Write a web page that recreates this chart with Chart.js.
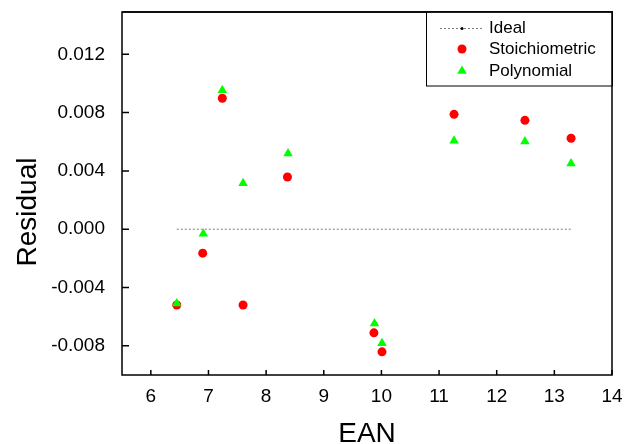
<!DOCTYPE html>
<html>
<head>
<meta charset="utf-8">
<script src="https://cdn.jsdelivr.net/npm/chart.js@4.4.0/dist/chart.umd.min.js"></script>
<style>
  html, body { margin: 0; padding: 0; background: #ffffff; }
  #wrap { width: 636px; height: 444px; }
</style>
</head>
<body>
<div id="wrap"><canvas id="residualChart"></canvas></div>
<script>
// data
const stoichEan = [6.45, 6.90, 7.24, 7.60, 8.37, 9.87, 10.01, 11.26, 12.49, 13.29];
const stoichResidual = [-0.0052, -0.00164, 0.00898, -0.0052, 0.00358, -0.00711, -0.00841, 0.00788, 0.00747, 0.00624];
const polyEan = [6.45, 6.91, 7.24, 7.60, 8.38, 9.88, 10.01, 11.26, 12.49, 13.29];
const polyResidual = [-0.0051, -0.00031, 0.00953, 0.00315, 0.0052, -0.00647, -0.00782, 0.00606, 0.00602, 0.00451];
const idealEan = [6.45, 13.32];
const idealResidual = [0, 0];

const xTicks = [6, 7, 8, 9, 10, 11, 12, 13, 14];
const yTicks = [-0.008, -0.004, 0, 0.004, 0.008, 0.012];

const FONT = "'Liberation Sans', Arial, sans-serif";

function toPoints(xs, ys) {
  return xs.map((x, i) => ({ x: x, y: ys[i] }));
}

// frame, inward tick marks, y title and the boxed legend
const framePlugin = {
  id: 'frame',
  afterDraw(chart) {
    const ctx = chart.ctx;
    const a = chart.chartArea;
    const xs = chart.scales.x;
    const ys = chart.scales.y;
    ctx.save();
    ctx.strokeStyle = '#000000';
    ctx.lineWidth = 1.5;
    ctx.strokeRect(a.left, a.top, a.right - a.left, a.bottom - a.top);
    ctx.beginPath();
    xTicks.forEach(v => {
      const px = xs.getPixelForValue(v);
      ctx.moveTo(px, a.bottom);
      ctx.lineTo(px, a.bottom - 5);
    });
    yTicks.forEach(v => {
      const py = ys.getPixelForValue(v);
      ctx.moveTo(a.left, py);
      ctx.lineTo(a.left + 7, py);
    });
    ctx.stroke();

    // y axis title
    ctx.fillStyle = '#000000';
    ctx.font = '28px ' + FONT;
    ctx.textAlign = 'center';
    ctx.textBaseline = 'middle';
    ctx.translate(28, 212);
    ctx.rotate(-Math.PI / 2);
    ctx.fillText('Residual', 0, 0);
    ctx.restore();

    // legend box in the top right corner
    ctx.save();
    const bx = 426, by = a.top, bw = a.right - 426, bh = 74;
    ctx.fillStyle = '#ffffff';
    ctx.fillRect(bx, by, bw, bh);
    ctx.strokeStyle = '#000000';
    ctx.lineWidth = 1;
    ctx.strokeRect(bx + 0.5, by, bw, bh);
    ctx.lineWidth = 1.5;
    ctx.beginPath();
    ctx.moveTo(a.left, a.top);
    ctx.lineTo(a.right, a.top);
    ctx.lineTo(a.right, by + bh);
    ctx.stroke();

    const mx = 462;
    const rows = [by + 16, by + 37, by + 59];
    chart.data.datasets.forEach((ds, i) => {
      const ry = rows[i];
      if (ds.showLine) {
        ctx.strokeStyle = ds.borderColor;
        ctx.lineWidth = 1;
        ctx.setLineDash([2, 2]);
        ctx.beginPath();
        ctx.moveTo(440, ry + 0.5);
        ctx.lineTo(482, ry + 0.5);
        ctx.stroke();
        ctx.setLineDash([]);
        ctx.fillStyle = '#000000';
        ctx.beginPath();
        ctx.arc(mx, ry + 0.5, 1.5, 0, Math.PI * 2);
        ctx.fill();
      } else if (ds.pointStyle === 'triangle') {
        const r = ds.pointRadius;
        ctx.fillStyle = ds.backgroundColor;
        ctx.beginPath();
        ctx.moveTo(mx, ry - r);
        ctx.lineTo(mx + r * Math.sin(Math.PI * 2 / 3), ry + r / 2);
        ctx.lineTo(mx - r * Math.sin(Math.PI * 2 / 3), ry + r / 2);
        ctx.closePath();
        ctx.fill();
      } else {
        ctx.fillStyle = ds.backgroundColor;
        ctx.beginPath();
        ctx.arc(mx, ry, ds.pointRadius, 0, Math.PI * 2);
        ctx.fill();
      }
      ctx.fillStyle = '#000000';
      ctx.font = '17px ' + FONT;
      ctx.textAlign = 'left';
      ctx.textBaseline = 'middle';
      ctx.fillText(ds.label, 489, ry);
    });
    ctx.restore();
  }
};

const ctx = document.getElementById('residualChart').getContext('2d');
const residualChart = new Chart(ctx, {
  type: 'scatter',
  data: {
    datasets: [
      {
        label: 'Ideal',
        data: toPoints(idealEan, idealResidual),
        showLine: true,
        borderColor: '#7f7f7f',
        borderWidth: 1,
        borderDash: [2, 2],
        pointRadius: 0,
        order: 3
      },
      {
        label: 'Stoichiometric',
        data: toPoints(stoichEan, stoichResidual),
        pointStyle: 'circle',
        pointRadius: 4.5,
        backgroundColor: '#ff0000',
        borderWidth: 0,
        order: 2
      },
      {
        label: 'Polynomial',
        data: toPoints(polyEan, polyResidual),
        pointStyle: 'triangle',
        pointRadius: 5.5,
        backgroundColor: '#00ff00',
        borderWidth: 0,
        order: 1
      }
    ]
  },
  options: {
    responsive: true,
    maintainAspectRatio: false,
    animation: false,
    layout: {
      padding: { left: 0, top: 12, right: 24, bottom: 0 }
    },
    scales: {
      x: {
        type: 'linear',
        min: 5.5,
        max: 14,
        afterBuildTicks: (scale) => { scale.ticks = xTicks.map(v => ({ value: v })); },
        afterFit: (scale) => {
          scale.height = 69;
          scale.paddingLeft = 0;
          scale.paddingRight = 0;
        },
        grid: { display: false },
        border: { display: false },
        ticks: {
          color: '#000000',
          padding: 2,
          maxRotation: 0,
          font: { family: FONT, size: 19 },
          callback: (v) => String(v)
        },
        title: {
          display: true,
          text: 'EAN',
          color: '#000000',
          font: { family: FONT, size: 28, lineHeight: 0.72 },
          padding: 0
        }
      },
      y: {
        type: 'linear',
        min: -0.010,
        max: 0.0149,
        afterBuildTicks: (scale) => { scale.ticks = yTicks.map(v => ({ value: v })); },
        afterFit: (scale) => {
          scale.width = 122;
          scale.paddingTop = 0;
          scale.paddingBottom = 0;
        },
        grid: { display: false },
        border: { display: false },
        ticks: {
          color: '#000000',
          padding: 9,
          font: { family: FONT, size: 19 },
          callback: (v) => v.toFixed(3)
        }
      }
    },
    plugins: {
      legend: { display: false },
      tooltip: { enabled: false }
    }
  },
  plugins: [framePlugin]
});
</script>
</body>
</html>
